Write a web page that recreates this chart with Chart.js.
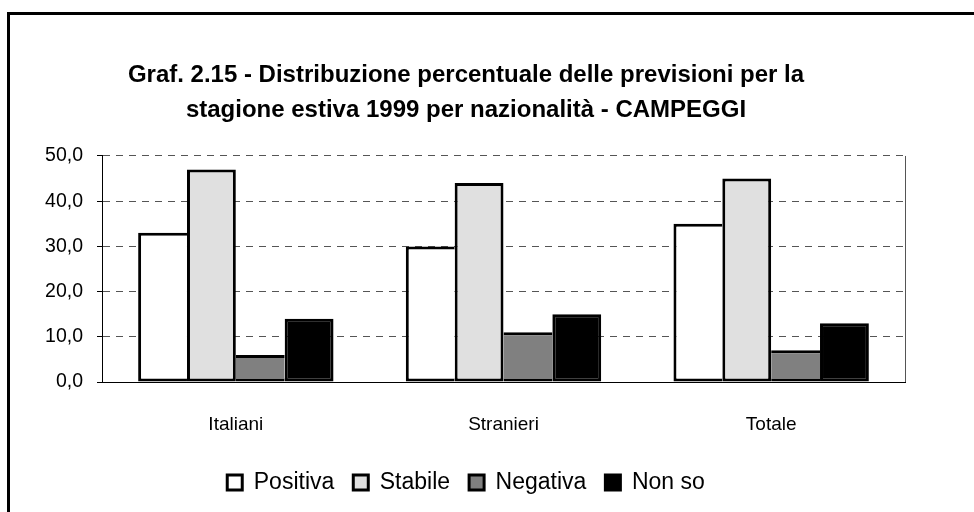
<!DOCTYPE html>
<html>
<head>
<meta charset="utf-8">
<script src="https://cdn.jsdelivr.net/npm/chart.js@4"></script>
<style>
  html, body { margin: 0; padding: 0; background: #fff; }
  #frame { position: absolute; left: 7px; top: 12px; width: 1000px; height: 600px;
           border-top: 3px solid #000; border-left: 3px solid #000; }
  #wrap { position: absolute; left: 0; top: 0; width: 974px; height: 512px; }
</style>
</head>
<body>
<div id="frame"></div>
<div id="wrap"><canvas id="c" width="974" height="512"></canvas></div>
<script>
const categories = ["Italiani", "Stranieri", "Totale"];
const seriesNames = ["Positiva", "Stabile", "Negativa", "Non so"];
const positiva = [33, 30, 35];
const stabile = [47, 44, 45];
const negativa = [6, 11, 7];
const nonSo = [14, 15, 13];
const yTicks = [0, 10, 20, 30, 40, 50];
const titleLines = ["Graf. 2.15 - Distribuzione percentuale delle previsioni per la",
                    "stagione estiva 1999 per nazionalità - CAMPEGGI"];

const fills = ["#ffffff", "#e0e0e0", "#808080", "#000000"];
const values = [positiva, stabile, negativa, nonSo];
// shared edges drawn once so adjoining bars keep a single 3px outline
const borders = [
  { top: 3, bottom: 3, left: 3, right: 0 },
  { top: 3, bottom: 3, left: 3, right: 3 },
  { top: 3, bottom: 3, left: 0, right: 0 },
  { top: 3, bottom: 3, left: 3, right: 3 }
];

const rightEdge = {
  id: 'rightEdge',
  afterDatasetsDraw(chart) {
    const a = chart.chartArea, ctx = chart.ctx;
    ctx.save();
    ctx.strokeStyle = '#555';
    ctx.lineWidth = 1;
    ctx.beginPath();
    ctx.moveTo(Math.round(a.right) + 0.5, a.top);
    ctx.lineTo(Math.round(a.right) + 0.5, a.bottom);
    ctx.stroke();
    ctx.restore();
  }
};

const FONT = 'Liberation Sans, Arial, sans-serif';

new Chart(document.getElementById('c'), {
  type: 'bar',
  data: {
    labels: categories,
    datasets: seriesNames.map((n, i) => ({
      label: n,
      data: values[i],
      backgroundColor: fills[i],
      borderColor: '#000',
      borderWidth: borders[i],
      borderSkipped: false,
      categoryPercentage: 0.73,
      barPercentage: 1.0
    }))
  },
  options: {
    responsive: false,
    animation: false,
    devicePixelRatio: 1,
    layout: { padding: { top: 58, left: 27, right: 69, bottom: 8 } },
    plugins: {
      tooltip: { enabled: false },
      title: {
        display: true,
        text: titleLines,
        color: '#000',
        font: { family: FONT, size: 24, weight: 'bold', lineHeight: 1.458 },
        padding: { top: 0, bottom: 28 }
      },
      legend: {
        position: 'bottom',
        labels: {
          color: '#000',
          font: { family: FONT, size: 23 },
          boxWidth: 15,
          boxHeight: 15,
          padding: 19,
          generateLabels(chart) {
            return chart.data.datasets.map((d, i) => ({
              text: d.label, fillStyle: d.backgroundColor, strokeStyle: '#000',
              lineWidth: 3, datasetIndex: i, hidden: false, fontColor: '#000'
            }));
          }
        }
      }
    },
    scales: {
      x: {
        grid: { display: false },
        border: { display: true, color: '#000', width: 1 },
        ticks: { color: '#000', padding: 23, font: { family: FONT, size: 19 } },
        afterFit(s) { s.height = 70; }
      },
      y: {
        min: 0, max: 50,
        afterBuildTicks(s) { s.ticks = yTicks.map(v => ({ value: v })); },
        grid: { color: '#555', lineWidth: 1, tickLength: 5, tickColor: '#000', tickBorderDash: [],
                drawTicks: true },
        border: { display: true, color: '#000', width: 1, dash: [7, 6] },
        ticks: { color: '#000', padding: 14, font: { family: FONT, size: 19.5 },
                 callback: v => v.toFixed(1).replace('.', ',') },
        afterFit(s) { s.width = 75; }
      }
    }
  },
  plugins: [rightEdge]
});
</script>
</body>
</html>
